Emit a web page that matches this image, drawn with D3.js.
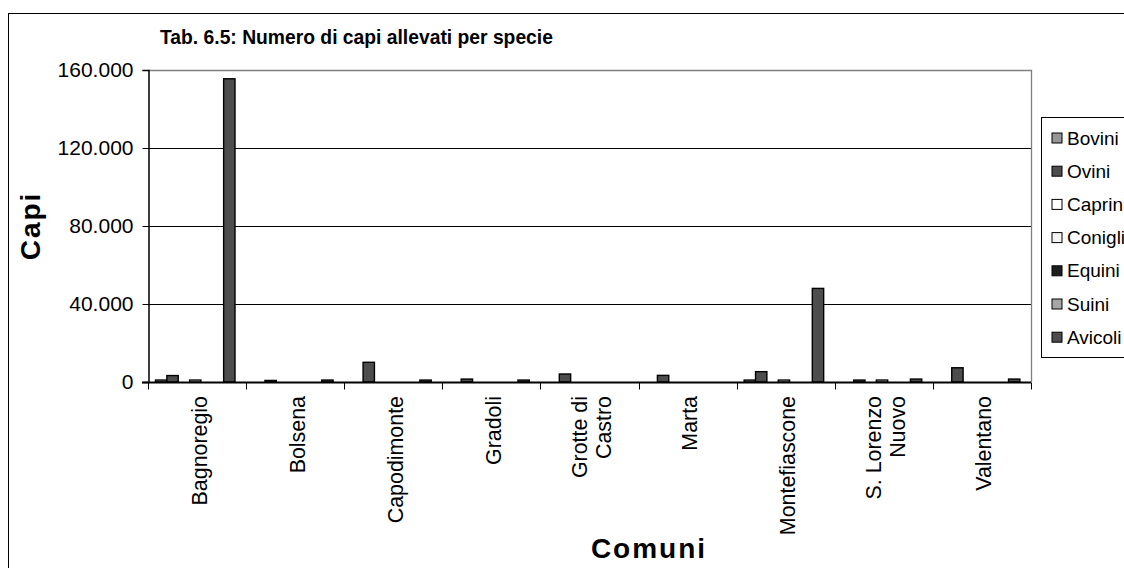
<html>
  <head>
    <script src="https://d3js.org/d3.v7.min.js"></script>
    <style>
      body { margin: 0; background: #fff; }
      text { font-family: "Liberation Sans", Arial, sans-serif; }
    </style>
  </head>

  <body>
    <svg id="vis"></svg>
  </body>

  <script>
    // Data
    var comuni = ["Bagnoregio", "Bolsena", "Capodimonte", "Gradoli", "Grotte di\nCastro", "Marta", "Montefiascone", "S. Lorenzo\nNuovo", "Valentano"]
    var specie = ["Bovini", "Ovini", "Caprini", "Conigli", "Equini", "Suini", "Avicoli"]
    var bovini  = [1000, 0, 0, 0, 0, 0, 1000, 0, 0]
    var ovini   = [3300, 800, 10100, 1500, 4100, 3400, 5300, 1000, 7300]
    var caprini = [0, 0, 0, 0, 0, 0, 0, 0, 0]
    var conigli = [1000, 0, 0, 0, 0, 0, 1000, 1000, 0]
    var equini  = [0, 0, 0, 0, 0, 0, 0, 0, 0]
    var suini   = [0, 0, 0, 0, 0, 0, 0, 0, 0]
    var avicoli = [155500, 1000, 1000, 1000, 0, 0, 48000, 1500, 1500]
    var yTicks = [0, 40000, 80000, 120000, 160000]
    var colori = ["#969696", "#4d4d4d", "#ffffff", "#f4f4f4", "#1e1e1e", "#a6a6a6", "#4d4d4d"]

    var valori = [bovini, ovini, caprini, conigli, equini, suini, avicoli]

    var width = 1124, height = 568
    var plot = {left: 148, right: 1031, top: 70, bottom: 382}

    var svg = d3.select("#vis")
      .attr("width", width)
      .attr("height", height)

    // outer frame (cut by the window on right and bottom)
    svg.append("rect")
      .attr("x", 8.5).attr("y", 13.5)
      .attr("width", 1300).attr("height", 700)
      .attr("fill", "#fff")
      .attr("stroke", "#000")

    // scales
    var x0 = d3.scaleBand().domain(comuni).range([plot.left, plot.right])
    var x1 = d3.scaleBand().domain(specie).range([7.5, 87])
    var y = d3.scaleLinear().domain([0, 160000]).range([plot.bottom, plot.top])

    // gridlines
    svg.append("g")
      .selectAll("line")
      .data(yTicks.slice(1, 4))
      .join("line")
      .attr("x1", plot.left).attr("x2", plot.right)
      .attr("y1", function(d){ return Math.round(y(d)) + 0.5 })
      .attr("y2", function(d){ return Math.round(y(d)) + 0.5 })
      .attr("stroke", "#000")

    // plot border top / right (gray)
    svg.append("path")
      .attr("d", "M" + plot.left + "," + (plot.top + 0.5) + "H" + (plot.right + 0.5) + "V" + plot.bottom)
      .attr("fill", "none")
      .attr("stroke", "#808080")
      .attr("stroke-width", 1.3)

    // bars
    var righe = []
    comuni.forEach(function(c, i){
      specie.forEach(function(s, j){
        if (valori[j][i] > 0) righe.push({comune: c, specie: s, value: valori[j][i], color: colori[j]})
      })
    })

    svg.append("g")
      .selectAll("rect")
      .data(righe)
      .join("rect")
      .attr("x", function(d){ return x0(d.comune) + x1(d.specie) })
      .attr("y", function(d){ return y(d.value) })
      .attr("width", x1.bandwidth())
      .attr("height", function(d){ return plot.bottom - y(d.value) })
      .attr("fill", function(d){ return d.color })
      .attr("stroke", "#000")
      .attr("stroke-width", 1.4)

    // y axis
    var yAxis = svg.append("g")
      .attr("transform", "translate(" + (plot.left + 0.5) + ",0)")
      .call(d3.axisLeft(y).tickValues(yTicks).tickSize(6).tickPadding(9)
        .tickFormat(function(d){ return d3.format(",")(d).replace(/,/g, ".") }))
    yAxis.select(".domain").attr("stroke", "#000").attr("stroke-width", 1.5)
    yAxis.selectAll("text")
      .attr("font-size", 21)
      .attr("font-family", "Liberation Sans, Arial, sans-serif")
      .attr("fill", "#000")

    // x axis
    var xAxis = svg.append("g")
      .attr("transform", "translate(0," + (plot.bottom + 0.5) + ")")
    xAxis.append("line")
      .attr("x1", plot.left - 6).attr("x2", plot.right)
      .attr("stroke", "#000").attr("stroke-width", 1.8)
    xAxis.selectAll("line.tick")
      .data(comuni.concat(["fine"]))
      .join("line")
      .attr("class", "tick")
      .attr("x1", function(d, i){ return Math.round(plot.left + i * x0.step()) + 0.5 })
      .attr("x2", function(d, i){ return Math.round(plot.left + i * x0.step()) + 0.5 })
      .attr("y1", 0).attr("y2", 7)
      .attr("stroke", "#000")

    // category labels, rotated
    comuni.forEach(function(c){
      var righeLab = c.split("\n")
      var cx = x0(c) + x0.bandwidth() / 2 + 2
      var t = svg.append("text")
        .attr("transform", "translate(" + cx + "," + (plot.bottom + 14) + ") rotate(-90)")
        .attr("text-anchor", "end")
        .attr("font-size", 21.4)
      righeLab.forEach(function(r, k){
        t.append("tspan")
          .attr("x", 0)
          .attr("y", (k - (righeLab.length - 1) / 2) * 24)
          .attr("dy", "0.35em")
          .text(r)
      })
    })

    // titles
    svg.append("text")
      .attr("x", 160).attr("y", 44)
      .attr("font-size", 19.3)
      .attr("font-weight", "bold")
      .text("Tab. 6.5: Numero di capi allevati per specie")

    svg.append("text")
      .attr("transform", "translate(40,226) rotate(-90)")
      .attr("text-anchor", "middle")
      .attr("font-size", 28)
      .attr("font-weight", "bold")
      .attr("letter-spacing", 2)
      .text("Capi")

    svg.append("text")
      .attr("x", 649).attr("y", 558)
      .attr("text-anchor", "middle")
      .attr("font-size", 28)
      .attr("font-weight", "bold")
      .attr("letter-spacing", 2)
      .text("Comuni")

    // legend
    var legend = svg.append("g").attr("transform", "translate(1041,117)")
    legend.append("rect")
      .attr("x", 0.5).attr("y", 0.5)
      .attr("width", 200).attr("height", 240)
      .attr("fill", "#fff")
      .attr("stroke", "#000")
    var voci = legend.selectAll("g.voce")
      .data(specie)
      .join("g")
      .attr("class", "voce")
      .attr("transform", function(d, i){ return "translate(0," + (21 + i * 33.2) + ")" })
    voci.append("rect")
      .attr("x", 11).attr("y", -5)
      .attr("width", 10).attr("height", 10)
      .attr("fill", function(d, i){ return colori[i] })
      .attr("stroke", "#000")
    voci.append("text")
      .attr("x", 26).attr("dy", "0.35em")
      .attr("font-size", 19)
      .text(function(d){ return d })
  </script>
</html>
